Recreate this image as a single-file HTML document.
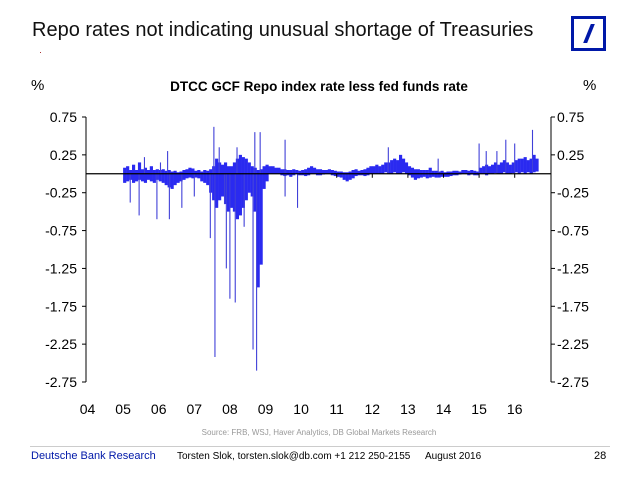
<!DOCTYPE html>
<html><head><meta charset="utf-8"><style>
body{margin:0;background:#fff;font-family:"Liberation Sans",Arial,sans-serif}
#w{position:relative;width:638px;height:478px;overflow:hidden}
.t{position:absolute;white-space:nowrap}
</style></head><body><div id="w">
<div class="t" style="left:32px;top:19px;font-size:20px;color:#111">Repo rates not indicating unusual shortage of Treasuries</div>
<div style="position:absolute;left:571px;top:16px;width:29px;height:29px;border:3px solid #0018a8">
<div style="position:absolute;left:13px;top:5px;width:4px;height:19px;background:#0018a8;transform:skewX(-22deg)"></div></div>
<div style="position:absolute;left:40px;top:52px;width:1px;height:1px;background:#a33"></div>
<div class="t" style="left:31px;top:77px;font-size:15px">%</div>
<div class="t" style="left:583px;top:77px;font-size:15px">%</div>
<div class="t" style="left:130px;top:79px;width:378px;text-align:center;font-size:13.5px;font-weight:bold">DTCC GCF Repo index rate less fed funds rate</div>
<svg id="c" width="638" height="478" style="position:absolute;left:0;top:0"></svg>
<div class="t" style="left:0;width:638px;text-align:center;top:428px;font-size:8px;color:#999">Source: FRB, WSJ, Haver Analytics, DB Global Markets Research</div>
<div style="position:absolute;left:30px;top:446px;width:580px;height:1px;background:#ccc"></div>
<div class="t" style="left:31px;top:450px;font-size:11px;color:#0018a8">Deutsche Bank Research</div>
<div class="t" style="left:177px;top:451px;font-size:10px">Torsten Slok, torsten.slok@db.com +1 212 250-2155</div>
<div class="t" style="left:425px;top:451px;font-size:10px">August 2016</div>
<div class="t" style="left:594px;top:450px;font-size:11px">28</div>
</div>
<script>
const yTicks=[0.75,0.25,-0.25,-0.75,-1.25,-1.75,-2.25,-2.75];
const yearLabels=["04","05","06","07","08","09","10","11","12","13","14","15","16"];
const startYear=2005;
const monthlyHi=[0.08,0.10,0.05,0.12,0.05,0.15,0.06,0.08,0.05,0.10,0.05,0.06,
0.05,0.06,0.04,0.05,0.03,0.04,0.02,0.03,0.05,0.06,0.08,0.07,
0.04,0.05,0.03,0.05,0.04,0.06,0.10,0.20,0.15,0.12,0.15,0.10,
0.10,0.15,0.20,0.25,0.22,0.20,0.15,0.10,0.08,0.05,0.06,0.10,
0.12,0.10,0.10,0.08,0.08,0.06,0.06,0.05,0.05,0.06,0.05,0.04,
0.05,0.06,0.08,0.10,0.08,0.06,0.06,0.05,0.05,0.06,0.05,0.04,
0.03,0.03,0.02,0.02,0.03,0.05,0.06,0.04,0.05,0.06,0.08,0.10,
0.10,0.12,0.10,0.12,0.15,0.15,0.18,0.20,0.18,0.25,0.20,0.15,
0.10,0.08,0.06,0.06,0.05,0.05,0.05,0.08,0.04,0.04,0.03,0.04,
0.02,0.03,0.03,0.04,0.04,0.03,0.05,0.05,0.04,0.05,0.04,0.03,
0.08,0.10,0.12,0.10,0.12,0.15,0.12,0.15,0.18,0.15,0.12,0.15,
0.18,0.20,0.20,0.22,0.18,0.20,0.25,0.20];
const monthlyLo=[-0.12,-0.10,-0.08,-0.12,-0.10,-0.08,-0.10,-0.12,-0.08,-0.10,-0.12,-0.08,
-0.10,-0.12,-0.15,-0.18,-0.20,-0.15,-0.12,-0.10,-0.08,-0.06,-0.05,-0.06,
-0.05,-0.06,-0.10,-0.12,-0.15,-0.25,-0.35,-0.45,-0.35,-0.30,-0.40,-0.50,
-0.45,-0.50,-0.60,-0.55,-0.45,-0.35,-0.25,-0.30,-0.50,-1.50,-1.20,-0.20,
-0.10,0.0,0.0,0.0,0.0,-0.02,-0.03,-0.02,-0.04,-0.02,0.0,-0.02,
-0.02,-0.03,-0.02,0.0,0.0,-0.02,-0.02,-0.01,0.0,0.0,-0.02,-0.03,
-0.04,-0.05,-0.08,-0.10,-0.08,-0.06,-0.03,-0.02,-0.02,-0.03,-0.02,0.0,
0.0,0.0,0.0,0.0,0.02,0.0,0.0,0.02,0.0,0.0,0.02,0.0,
-0.02,-0.05,-0.08,-0.06,-0.05,-0.04,-0.06,-0.05,-0.04,-0.05,-0.05,-0.04,
-0.04,-0.04,-0.03,-0.02,-0.02,-0.01,0.0,0.0,-0.02,-0.01,-0.02,-0.02,
0.0,0.0,-0.02,0.0,0.0,0.01,0.0,0.0,0.02,0.0,0.0,0.01,
0.02,0.0,0.02,0.0,0.02,0.0,0.02,0.03];
const spikeDates=[2005.2,2005.45,2005.6,2005.95,2006.05,2006.3,2006.25,2006.65,2007.0,2007.45,2007.55,2007.58,2007.7,2007.85,2007.9,2008.0,2008.15,2008.2,2008.4,2008.65,2008.75,2008.7,2008.85,2009.55,2009.55,2009.9,2012.45,2013.85,2015.0,2015.2,2015.5,2015.75,2016.0,2016.5];
const spikeValues=[-0.38,-0.55,0.22,-0.6,0.15,-0.6,0.3,-0.45,-0.3,-0.85,0.62,-2.42,0.35,-0.4,-1.25,-1.65,-1.7,0.35,-0.7,-2.32,-2.6,0.55,0.55,0.45,-0.3,-0.45,0.35,0.2,0.4,0.3,0.3,0.45,0.4,0.58];

const NS="http://www.w3.org/2000/svg",svg=document.getElementById('c');
const L=86,R=551,T=117,B=382;
const y=v=>T+(0.75-v)*(B-T)/3.5;
const x=yr=>336.7+(yr-2011)*35.6;
function mk(t,a){const e=document.createElementNS(NS,t);for(const k in a)e.setAttribute(k,a[k]);svg.appendChild(e);return e;}
let e;
e=mk('line',{x1:L,y1:T,x2:L,y2:B,stroke:'#000','stroke-width':1});


e=mk('line',{x1:R,y1:T,x2:R,y2:B,stroke:'#000','stroke-width':1});


yTicks.forEach(v=>{
 const yy=y(v);
 mk('line',{x1:L-4,y1:yy,x2:L,y2:yy,stroke:'#000'});
 mk('line',{x1:R,y1:yy,x2:R+4,y2:yy,stroke:'#000'});
 let t=mk('text',{x:L-9,y:yy+5,'text-anchor':'end','font-size':14});t.textContent=v.toFixed(2);
 
 
 t=mk('text',{x:R+6,y:yy+5,'font-size':14});t.textContent=v.toFixed(2);
 
 
});
yearLabels.forEach((s,i)=>{
 const t=mk('text',{x:x(2004+i),y:414,'text-anchor':'middle','font-size':14});t.textContent=s;
 
 
});
monthlyHi.forEach((h,i)=>{
 const yr=startYear+i/12,lo=monthlyLo[i];
 const r=mk('rect',{x:x(yr),y:y(h),width:35.6/12+0.2,height:Math.max(1,y(lo)-y(h)),fill:'#2a2af0'});
 
 
});
spikeDates.forEach((d,i)=>{
 const v=spikeValues[i];
 const l=mk('line',{x1:x(d),x2:x(d),y1:y(0),y2:y(v),stroke:'#4040d8','stroke-width':1.1});
 
 
});
e=mk('line',{x1:L,y1:y(0),x2:R,y2:y(0),stroke:'#000','stroke-width':1.2});


for(let yr=2011;yr<=2016;yr++){mk('line',{x1:x(yr),x2:x(yr),y1:y(0),y2:y(0)+4,stroke:'#000'});}
</script></body></html>
